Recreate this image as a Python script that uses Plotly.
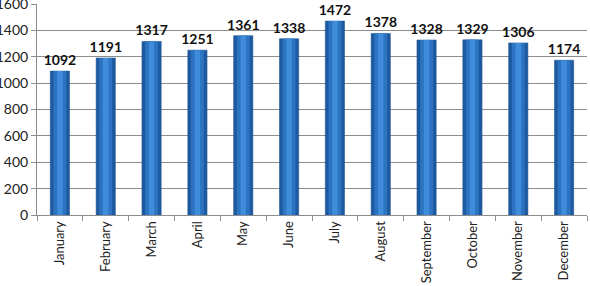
import plotly.graph_objects as go

months = ["January", "February", "March", "April", "May", "June", "July",
          "August", "September", "October", "November", "December"]
values = [1092, 1191, 1317, 1251, 1361, 1338, 1472, 1378, 1328, 1329, 1306, 1174]
y_ticks = [0, 200, 400, 600, 800, 1000, 1200, 1400, 1600]

fig = go.Figure()
fig.add_trace(go.Bar(
    x=months, y=values, width=0.42,
    marker=dict(color="#1D5A9F", line=dict(color="#1A4F8E", width=0.5)),
    text=[str(v) for v in values], textposition="outside", cliponaxis=False,
    constraintext="none",
    textfont=dict(family="Lato", size=14, color="#111111", weight="bold"),
))
fig.add_trace(go.Bar(
    x=months, y=values, width=0.28,
    marker=dict(color="#2C73C2", line=dict(width=0)),
    hoverinfo="skip",
))
fig.add_trace(go.Bar(
    x=months, y=values, width=0.12,
    marker=dict(color="#3F8CDA", line=dict(width=0)),
    hoverinfo="skip",
))
fig.update_layout(
    width=590, height=286, barmode="overlay", showlegend=False,
    margin=dict(l=37, r=3, t=4, b=71),
    plot_bgcolor="white", paper_bgcolor="white",
    font=dict(family="Lato", size=13, color="#222222"),
)
fig.update_yaxes(range=[0, 1601], tickvals=y_ticks, showgrid=True,
                 gridcolor="#8c8c8c", gridwidth=1, showline=True,
                 linecolor="#8c8c8c", ticks="outside", ticklen=5,
                 tickcolor="#8c8c8c", zeroline=False, automargin=False,
                 ticklabeloverflow="allow", tickfont=dict(size=14))
fig.update_xaxes(tickangle=-90, showline=True, linecolor="#8c8c8c",
                 ticks="outside", tickson="boundaries", ticklen=5,
                 tickcolor="#8c8c8c", automargin=False,
                 ticklabeloverflow="allow", tickfont=dict(size=13))
fig.write_html("out.html")
